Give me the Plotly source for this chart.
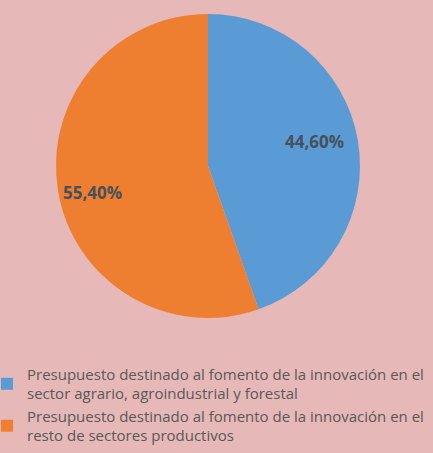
import math
import plotly.graph_objects as go

labels = [
    "Presupuesto destinado al fomento de la innovación en el<br>sector agrario, agroindustrial y forestal",
    "Presupuesto destinado al fomento de la innovación en el<br>resto de sectores productivos",
]
values = [44.6, 55.4]
colors = ["#5B9BD5", "#EE7F31"]

_BG = "#E6B8B7"
_TEXT = "#595959"
_LABEL = "#46505C"

# pie placement (paper fractions)
dom_x = [56 / 433, 360 / 433]
dom_y = [1 - 318 / 453, 1 - 14 / 453]

fig = go.Figure(go.Pie(
    labels=labels,
    values=values,
    sort=False,
    direction="clockwise",
    rotation=0,
    marker=dict(colors=colors, line=dict(color=_BG, width=0)),
    textinfo="none",
    domain=dict(x=dom_x, y=dom_y),
    hoverinfo="label+percent",
))

# percentage labels placed near each slice's mid angle
cx = (dom_x[0] + dom_x[1]) / 2
cy = (dom_y[0] + dom_y[1]) / 2
rx = (dom_x[1] - dom_x[0]) / 2
ry = (dom_y[1] - dom_y[0]) / 2
total = sum(values)
start = 90.0
for v, rf in zip(values, [0.72, 0.78]):
    span = v / total * 360
    mid = math.radians(start - span / 2 + 3)
    start -= span
    fig.add_annotation(
        x=cx + rf * rx * math.cos(mid),
        y=cy + rf * ry * math.sin(mid),
        xref="paper", yref="paper",
        xanchor="center", yanchor="middle",
        text=f"{v / total * 100:.2f}%".replace(".", ","),
        showarrow=False,
        font=dict(family="Open Sans", size=17, color=_LABEL, weight="bold"),
    )

fig.update_layout(
    width=433,
    height=453,
    paper_bgcolor=_BG,
    plot_bgcolor=_BG,
    margin=dict(l=0, r=0, t=0, b=0, autoexpand=False),
    showlegend=True,
    legend=dict(
        x=-0.03, y=0.21, xanchor="left", yanchor="top",
        font=dict(family="Open Sans", size=15, color=_TEXT),
        bgcolor="rgba(0,0,0,0)",
    ),
)

fig.write_html(
    "out.html",
    config={"displayModeBar": False},
    post_script="document.body.style.margin='0';document.body.style.background='%s';" % _BG,
)
